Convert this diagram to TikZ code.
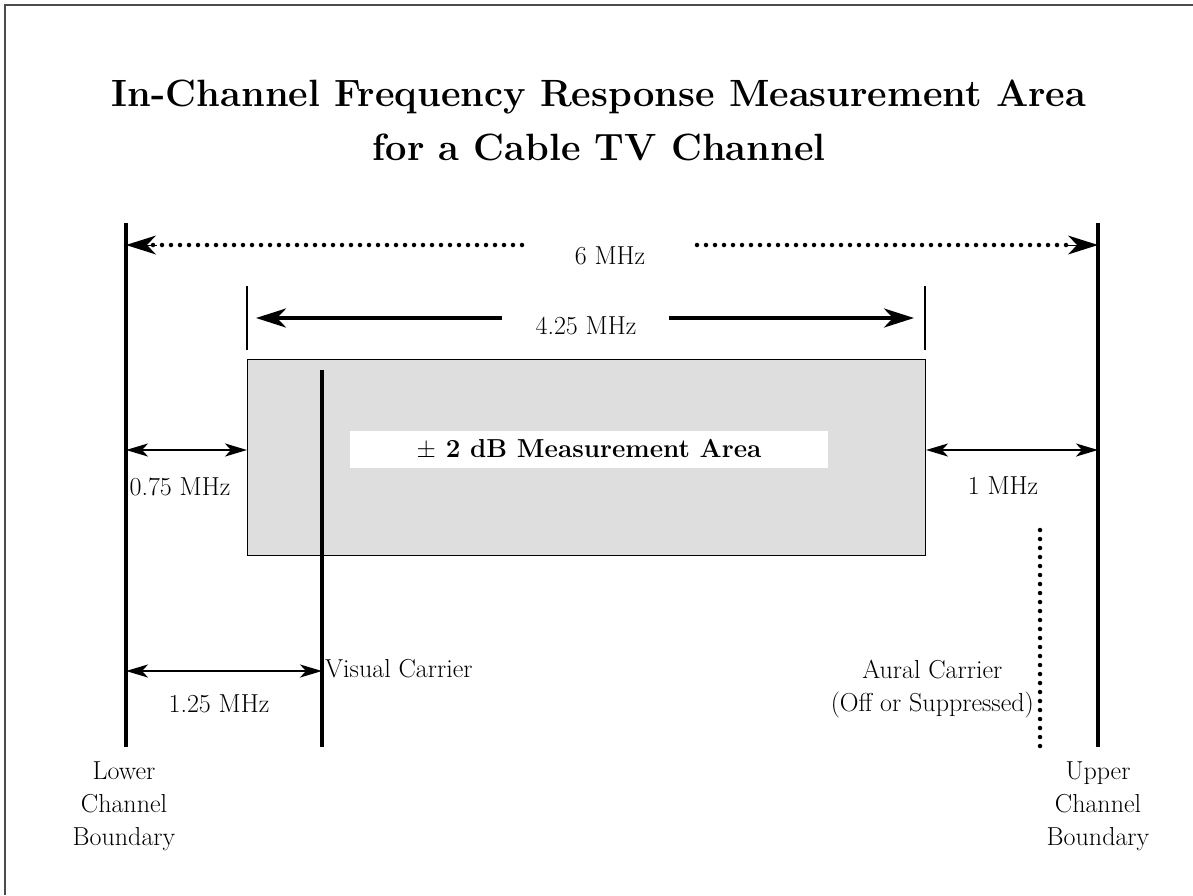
\documentclass[tikz,border=0pt]{standalone}
\usepackage{amsmath}
\usepackage{amssymb}
\usetikzlibrary{arrows.meta,positioning}

\begin{document}
\begin{tikzpicture}[x=1pt,y=-1pt,
  txt/.style={font=\fontsize{26}{33}\selectfont,inner sep=0pt,align=center},
  bnd/.style={line width=4pt},
  bigarr/.style={line width=4pt,-{Stealth[length=30pt,width=19pt,inset=9pt]}},
  smallarr/.style={line width=2.5pt,{Stealth[length=22pt,width=13pt,inset=6pt]}-{Stealth[length=22pt,width=13pt,inset=6pt]}},
  dots/.style={line width=4.5pt,line cap=round,dash pattern=on 0pt off 9pt}]
  \useasboundingbox (0,0) rectangle (1193,895);
  \draw[black!70,line width=2.5pt] (5,895) -- (5,5) -- (1193,5);

  \node[font=\fontsize{38}{54}\selectfont\bfseries,align=center] (title) at (599,120)
    {In-Channel Frequency Response Measurement Area\\for a Cable TV Channel};

  % channel boundaries and carriers
  \coordinate (lowtop) at (126,223);  \coordinate (lowbot) at (126,747);
  \coordinate (uptop) at (1098,223);  \coordinate (upbot) at (1098,747);
  \node[draw,fill=black!13,line width=1pt,minimum width=678,minimum height=196,
        anchor=north west] (area) at (247,359) {};
  \coordinate (vistop) at (322,370);  \coordinate (visbot) at (322,747);
  \coordinate (auraltop) at (1040,530); \coordinate (auralbot) at (1040,747);
  \draw[bnd] (lowtop) -- (lowbot);
  \draw[bnd] (uptop) -- (upbot);
  \draw[line width=3.5pt] (vistop) -- (visbot);
  \draw[dots] (auraltop) -- (auralbot);
  \node[fill=white,minimum width=478,minimum height=37,inner sep=0pt,
        font=\fontsize{26}{32}\selectfont\bfseries] (meas) at (589,449)
    {$\pm$ 2 dB Measurement Area};

  % 6 MHz
  \node[txt] (six) at (610,256) {6 MHz};
  \coordinate (sixl) at (522,245); \coordinate (sixr) at (697,245);
  \draw[dots] (sixl) -- (lowtop |- sixl);
  \draw[bigarr,line width=0pt] ([xshift=30]lowtop |- sixl) -- (lowtop |- sixl);
  \draw[dots] (sixr) -- ([xshift=-30]uptop |- sixr);
  \draw[bigarr,line width=0pt] ([xshift=-30]uptop |- sixr) -- (uptop |- sixr);

  % 4.25 MHz
  \draw[line width=1.2pt] (247,286) -- (247,350) (925,286) -- (925,350);
  \node[txt] (four) at (586,326) {4.25 MHz};
  \draw[bigarr] (502,318) -- (256,318);
  \draw[bigarr] (669,318) -- (914,318);

  % side widths
  \draw[smallarr] (lowtop |- 0,450) -- (area.west |- 0,450);
  \node[txt] (lowgap) at (180,487) {0.75 MHz};
  \draw[smallarr] (area.east |- 0,450) -- (uptop |- 0,450);
  \node[txt] (upgap) at (1003,486) {1 MHz};
  \draw[smallarr] (lowtop |- 0,671) -- (vistop |- 0,671);
  \node[txt] (visgap) at (219,704) {1.25 MHz};

  % labels
  \node[txt,anchor=base west] (vis) at (325,677) {Visual Carrier};
  \node[txt,anchor=east] (aural) at (1034,689) {Aural Carrier\\(Off or Suppressed)};
  \node[txt,anchor=north] (lower) at (124,762) {Lower\\Channel\\Boundary};
  \node[txt,anchor=north] (upper) at (1098,762) {Upper\\Channel\\Boundary};
\end{tikzpicture}
\end{document}
